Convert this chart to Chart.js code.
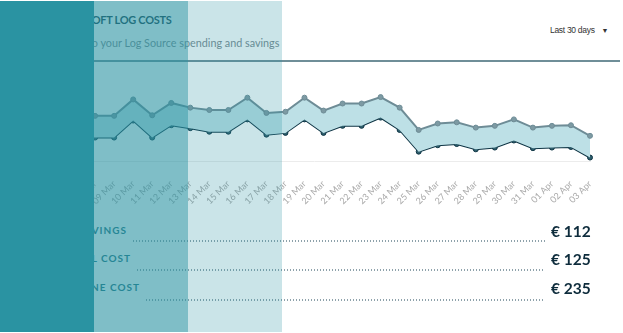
<!DOCTYPE html>
<html lang="en">
  <head>
    <meta charset="UTF-8" />
    <script src="https://cdn.jsdelivr.net/npm/chart.js@4.4.0/dist/chart.umd.min.js"></script>
    <title>Log costs</title>
    <style>
      body {
        margin: 0;
        padding: 0;
        background: #fff;
        width: 623px;
        height: 333px;
        overflow: hidden;
        position: relative;
        font-family: 'Lato', sans-serif;
      }
      .title {
        position: absolute;
        left: 86px;
        top: 13px;
        font-size: 11px;
        font-weight: 700;
        color: #163f4f;
        letter-spacing: -0.3px;
      }
      .subtitle {
        position: absolute;
        left: 88px;
        top: 36px;
        font-size: 10.8px;
        color: #7b8a90;
      }
      .range {
        position: absolute;
        left: 550px;
        top: 25px;
        font-family: 'Liberation Sans', Arial, sans-serif;
        font-size: 8.5px;
        color: #333;
        letter-spacing: -0.3px;
      }
      .range span {
        margin-left: 7px;
        font-size: 7px;
      }
      .divider {
        position: absolute;
        left: 90px;
        top: 60px;
        width: 530px;
        height: 2px;
        background: #6f8e98;
      }
      .chart-box {
        position: absolute;
        left: 0;
        top: 62px;
        width: 623px;
        height: 162px;
      }
      .row {
        position: absolute;
        left: 0;
        width: 623px;
      }
      .row .label {
        position: absolute;
        top: 1px;
        font-size: 10px;
        font-weight: 700;
        letter-spacing: 1px;
        color: #1f7483;
        white-space: nowrap;
      }
      .row .dots {
        position: absolute;
        right: 78px;
        height: 1.5px;
        background: repeating-linear-gradient(to right, #8ea2ab 0 1.5px, transparent 1.5px 3px);
      }
      .row .value {
        position: absolute;
        left: 551px;
        top: -1px;
        font-size: 15.5px;
        font-weight: 700;
        color: #0e2c3c;
        white-space: nowrap;
      }
      .panel {
        position: absolute;
        top: 1px;
        height: 331px;
        width: 94px;
      }
    </style>
  </head>
  <body>
    <div class="title">SOFT LOG COSTS</div>
    <div class="subtitle">to your Log Source spending and savings</div>
    <div class="range">Last 30 days<span>&#9660;</span></div>
    <div class="divider"></div>

    <div class="chart-box">
      <canvas id="costChart"></canvas>
    </div>

    <div class="row" style="top: 223px">
      <div class="label" style="right: 496px">SAVINGS</div>
      <div class="dots" style="left: 133px; top: 17px"></div>
      <div class="value">€ 112</div>
    </div>
    <div class="row" style="top: 251px">
      <div class="label" style="right: 492px">ACTUAL COST</div>
      <div class="dots" style="left: 137px; top: 18px"></div>
      <div class="value">€ 125</div>
    </div>
    <div class="row" style="top: 280px">
      <div class="label" style="right: 483px">BASELINE COST</div>
      <div class="dots" style="left: 146px; top: 19px"></div>
      <div class="value">€ 235</div>
    </div>

    <div class="panel" style="left: 0; background: #2a93a2"></div>
    <div class="panel" style="left: 94px; background: rgba(42, 147, 162, 0.6)"></div>
    <div class="panel" style="left: 188px; background: rgba(42, 147, 162, 0.25)"></div>

    <script>
      const days = [
        '05 Mar', '06 Mar', '07 Mar', '08 Mar', '09 Mar', '10 Mar', '11 Mar', '12 Mar',
        '13 Mar', '14 Mar', '15 Mar', '16 Mar', '17 Mar', '18 Mar', '19 Mar', '20 Mar',
        '21 Mar', '22 Mar', '23 Mar', '24 Mar', '25 Mar', '26 Mar', '27 Mar', '28 Mar',
        '29 Mar', '30 Mar', '31 Mar', '01 Apr', '02 Apr', '03 Apr',
      ]
      // daily cost without log source optimisation (EUR)
      const baselineCost = [
        8.2, 9.0, 7.9, 7.7, 7.7, 10.5, 7.8, 9.9, 9.1, 8.7, 8.7, 10.8, 8.2, 8.4, 10.8,
        8.6, 9.8, 9.8, 10.9, 9.1, 5.3, 6.4, 6.6, 5.7, 6.0, 7.1, 5.7, 6.0, 6.1, 4.3,
      ]
      // daily actual cost (EUR)
      const actualCost = [
        4.5, 5.3, 4.2, 4.0, 4.0, 6.9, 4.0, 6.1, 5.6, 5.0, 5.0, 7.1, 4.5, 4.8, 7.1,
        4.8, 6.0, 6.0, 7.4, 5.3, 1.6, 2.7, 2.9, 2.0, 2.3, 3.5, 2.2, 2.3, 2.4, 0.6,
      ]
      const yMax = 15

      const ctx = document.getElementById('costChart').getContext('2d')
      const chart = new Chart(ctx, {
        type: 'line',
        data: {
          labels: days,
          datasets: [
            {
              label: 'Baseline cost',
              data: baselineCost,
              borderColor: '#6e8c96',
              backgroundColor: '#bde0e6',
              pointBackgroundColor: '#7d9aa3',
              pointBorderColor: '#6e8c96',
              pointRadius: 2.5,
              pointBorderWidth: 1,
              borderWidth: 2,
              tension: 0,
              fill: '+1',
            },
            {
              label: 'Actual cost',
              data: actualCost,
              borderColor: '#0e3444',
              backgroundColor: '#0e3444',
              pointBackgroundColor: '#2f5f6d',
              pointBorderColor: '#0e3444',
              pointRadius: 2.5,
              pointBorderWidth: 1,
              borderWidth: 2,
              tension: 0,
              fill: false,
            },
          ],
        },
        options: {
          responsive: true,
          maintainAspectRatio: false,
          animation: false,
          layout: {
            padding: { top: 11, right: 33, left: 38, bottom: 0 },
          },
          plugins: {
            legend: { display: false },
            title: { display: false },
            tooltip: { enabled: false },
          },
          scales: {
            x: {
              grid: { display: false, drawTicks: false },
              border: { display: true, color: '#ececec', width: 1 },
              ticks: {
                autoSkip: false,
                minRotation: 45,
                maxRotation: 45,
                padding: 17.5,
                color: '#a9a9a9',
                font: { family: 'Lato', size: 9 },
              },
            },
            y: {
              display: false,
              min: 0,
              max: yMax,
            },
          },
        },
      })
    </script>
  </body>
</html>
